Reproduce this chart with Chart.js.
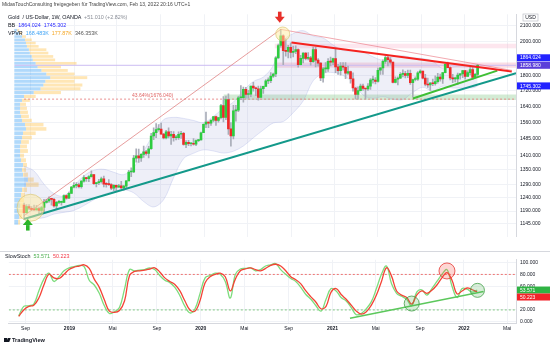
<!DOCTYPE html>
<html>
<head>
<meta charset="utf-8">
<script src="https://cdn.jsdelivr.net/npm/chart.js"></script>
<style>
  body { margin: 0; width: 550px; height: 350px; background: #fff; position: relative; overflow: hidden;
         font-family: "Liberation Sans", Arial, sans-serif; }
  canvas { position: absolute; left: 0; }
  #main { top: 0; }
  #stoch { top: 251px; }
  .t { position: absolute; white-space: nowrap; color: #131722; line-height: 1; }
  .sep { position: absolute; left: 0; top: 251px; width: 550px; height: 1px; background: #d6d8de; }
</style>
</head>
<body>
<canvas id="main" width="550" height="251"></canvas>
<canvas id="stoch" width="550" height="99"></canvas>
<div class="sep"></div>

<div class="t" style="left:2px;top:2px;font-size:5px;color:#444">MidasTouchConsulting freigegeben für TradingView.com, Feb 13, 2022 20:16 UTC+1</div>
<div class="t" style="left:8px;top:15px;font-size:5.4px">Gold &nbsp;/ US-Dollar, 1W, OANDA &nbsp;<span style="color:#8a8e97">+51.010 (+2.82%)</span></div>
<div class="t" style="left:8px;top:23px;font-size:5.4px">BB &nbsp;<span style="color:#2a2aff">1864.024 &nbsp;1745.302</span></div>
<div class="t" style="left:8px;top:31px;font-size:5.4px">VPVR &nbsp;<span style="color:#42a5f5">168.483K</span> &nbsp;<span style="color:#f5a623">177.87K</span> &nbsp;<span style="color:#555">346.353K</span></div>
<div class="t" style="left:5px;top:254px;font-size:5.4px">SlowStoch &nbsp;<span style="color:#4caf50">53.571</span> &nbsp;<span style="color:#f23645">50.223</span></div>
<div style="position:absolute;left:4px;top:338px;width:3px;height:4px;background:#131722"></div>
<div style="position:absolute;left:7px;top:338px;width:3px;height:4px;background:#131722;transform:skewX(-20deg)"></div>
<div class="t" style="left:12px;top:338px;font-size:5.6px;font-weight:bold">TradingView</div>

<script>
// weekly candles, week 0 = Aug 13 2018
const firstOpen = 1212;
const closes = [
  1184, 1206, 1200, 1195, 1194, 1199, 1192, 1203, 1222, 1227,
  1234, 1233, 1209, 1222, 1222, 1222, 1248, 1238, 1256, 1280,
  1287, 1289, 1282, 1304, 1318, 1314, 1322, 1330, 1294, 1298,
  1302, 1313, 1292, 1291, 1290, 1276, 1287, 1280, 1285, 1277,
  1284, 1305, 1341, 1341, 1399, 1409, 1400, 1415, 1426, 1419,
  1440, 1497, 1513, 1527, 1529, 1506, 1488, 1516, 1497, 1505,
  1489, 1490, 1505, 1509, 1459, 1468, 1462, 1464, 1460, 1476,
  1479, 1512, 1552, 1562, 1557, 1571, 1589, 1570, 1584, 1643,
  1585, 1674, 1530, 1498, 1617, 1620, 1683, 1683, 1727, 1700,
  1702, 1744, 1735, 1730, 1685, 1730, 1743, 1772, 1774, 1798,
  1810, 1902, 1975, 2035, 1944, 1940, 1964, 1934, 1940, 1950,
  1862, 1899, 1930, 1899, 1902, 1879, 1951, 1889, 1871, 1788,
  1839, 1839, 1881, 1877, 1898, 1850, 1829, 1855, 1848, 1814,
  1823, 1784, 1734, 1700, 1720, 1745, 1732, 1729, 1744, 1777,
  1777, 1769, 1831, 1844, 1881, 1904, 1891, 1877, 1764, 1781,
  1787, 1808, 1812, 1802, 1814, 1763, 1780, 1781, 1817, 1827,
  1787, 1754, 1750, 1761, 1757, 1768, 1793, 1783, 1818, 1864,
  1846, 1788, 1783, 1783, 1804, 1811, 1829, 1797, 1818, 1835,
  1791, 1808, 1858.98
];
const highs = [
  1219, 1214, 1214, 1206, 1212, 1211, 1204, 1207, 1233, 1233,
  1243, 1237, 1237, 1226, 1230, 1227, 1250, 1250, 1261, 1283,
  1298, 1298, 1296, 1306, 1326, 1319, 1326, 1346, 1330, 1298,
  1311, 1320, 1324, 1298, 1310, 1294, 1290, 1289, 1291, 1303,
  1287, 1306, 1348, 1358, 1411, 1439, 1438, 1419, 1452, 1433,
  1450, 1510, 1535, 1555, 1550, 1557, 1510, 1523, 1535, 1519,
  1517, 1500, 1516, 1519, 1514, 1476, 1477, 1466, 1485, 1480,
  1482, 1515, 1554, 1611, 1564, 1574, 1589, 1591, 1585, 1649,
  1689, 1692, 1703, 1560, 1644, 1645, 1690, 1747, 1739, 1738,
  1722, 1745, 1765, 1739, 1744, 1745, 1745, 1779, 1789, 1818,
  1815, 1909, 1983, 2075, 2040, 2016, 1976, 1992, 1972, 1973,
  1955, 1917, 1933, 1932, 1933, 1911, 1965, 1965, 1898, 1875,
  1848, 1875, 1897, 1906, 1900, 1959, 1865, 1875, 1875, 1875,
  1855, 1826, 1816, 1739, 1740, 1755, 1755, 1732, 1758, 1785,
  1798, 1790, 1843, 1846, 1890, 1913, 1916, 1903, 1878, 1795,
  1795, 1818, 1834, 1825, 1832, 1832, 1782, 1795, 1823, 1834,
  1827, 1808, 1788, 1764, 1782, 1800, 1814, 1810, 1818, 1868,
  1877, 1850, 1808, 1793, 1815, 1814, 1831, 1831, 1828, 1848,
  1853, 1814, 1865
];
const lows = [
  1160, 1182, 1195, 1191, 1192, 1193, 1180, 1182, 1183, 1219,
  1222, 1211, 1204, 1196, 1217, 1211, 1221, 1234, 1236, 1256,
  1277, 1277, 1277, 1276, 1300, 1303, 1302, 1320, 1291, 1281,
  1290, 1296, 1281, 1280, 1287, 1270, 1266, 1266, 1279, 1275,
  1268, 1277, 1305, 1322, 1338, 1382, 1381, 1385, 1402, 1412,
  1400, 1437, 1480, 1490, 1520, 1505, 1484, 1484, 1488, 1459,
  1474, 1479, 1482, 1486, 1456, 1445, 1454, 1452, 1456, 1454,
  1471, 1478, 1512, 1536, 1536, 1546, 1563, 1547, 1562, 1577,
  1563, 1574, 1504, 1451, 1484, 1567, 1613, 1674, 1660, 1681,
  1681, 1689, 1717, 1694, 1671, 1685, 1705, 1743, 1757, 1763,
  1791, 1795, 1898, 1965, 1863, 1911, 1902, 1902, 1907, 1927,
  1848, 1861, 1873, 1890, 1890, 1860, 1876, 1850, 1854, 1774,
  1765, 1819, 1824, 1855, 1863, 1817, 1808, 1803, 1831, 1785,
  1808, 1760, 1717, 1677, 1676, 1719, 1721, 1677, 1721, 1726,
  1760, 1756, 1766, 1808, 1808, 1870, 1856, 1866, 1761, 1761,
  1750, 1784, 1794, 1789, 1790, 1753, 1688, 1772, 1775, 1810,
  1783, 1745, 1737, 1721, 1746, 1749, 1760, 1771, 1758, 1816,
  1845, 1778, 1762, 1767, 1753, 1782, 1790, 1782, 1797, 1805,
  1780, 1788, 1800
];

// Bollinger band (20, 2) read every 4 weeks
const bbWeeks = [0, 4, 8, 12, 16, 20, 24, 28, 32, 36, 40, 44, 48, 52, 56, 60, 64, 68, 72, 76, 80, 84, 88, 92,
  96, 100, 104, 108, 112, 116, 120, 124, 128, 132, 136, 140, 144, 148, 152, 156, 160, 164, 168, 172, 176, 180, 182];
const bbUpper = [1365, 1345, 1292, 1255, 1246, 1285, 1325, 1348, 1352, 1340, 1330, 1360, 1430, 1506, 1574, 1585,
  1580, 1570, 1560, 1590, 1629, 1661, 1720, 1769, 1793, 1858, 2005, 2048, 2067, 2033, 2021, 1978, 1946, 1943,
  1937, 1908, 1889, 1908, 1914, 1903, 1898, 1882, 1840, 1850, 1855, 1855, 1864.024];
const bbLower = [1180, 1165, 1166, 1179, 1185, 1192, 1210, 1232, 1252, 1264, 1270, 1258, 1225, 1205, 1232, 1318,
  1397, 1420, 1435, 1430, 1421, 1429, 1452, 1489, 1525, 1558, 1565, 1608, 1667, 1773, 1813, 1818, 1802, 1763,
  1697, 1680, 1689, 1676, 1674, 1711, 1738, 1718, 1744, 1734, 1735, 1735, 1745.302];

// volume profile rows (price bin centre, up volume, down volume), bins 20 wide
const vpBin = 20;
const vpPrices = [1150, 1170, 1190, 1210, 1230, 1250, 1270, 1290, 1310, 1330, 1350, 1370, 1390, 1410, 1430, 1450,
  1470, 1490, 1510, 1530, 1550, 1570, 1590, 1610, 1630, 1650, 1670, 1690, 1710, 1730, 1750, 1770, 1790, 1810,
  1830, 1850, 1870, 1890, 1910, 1930, 1950, 1970, 1990, 2010, 2030, 2050, 2070];
const vpUp = [4, 5, 5, 6, 6, 7, 8, 12, 14, 9, 8, 9, 7, 6, 6, 6, 7, 8, 9, 12, 11, 8, 7, 6, 6, 6, 8, 10, 20, 27, 30,
  32, 37, 33, 28, 24, 22, 19, 18, 16, 15, 13, 12, 11, 8, 5, 3];
const vpDown = [2, 3, 4, 4, 4, 4, 5, 13, 6, 5, 4, 4, 5, 4, 8, 7, 8, 10, 13, 21, 19, 10, 8, 8, 7, 6, 8, 12, 28, 41,
  40, 30, 38, 29, 27, 24, 42, 23, 22, 19, 18, 12, 10, 7, 4, 3, 2];

// slow stochastic, one value every 2 weeks
const stochStep = 2;
const stochK = [10, 26, 27, 30, 52, 72, 82, 68, 76, 86, 91, 93, 95, 93, 70, 62, 48, 27, 14, 17, 24, 55, 88, 86,
  87, 88, 91, 88, 78, 70, 66, 58, 44, 26, 15, 22, 48, 74, 78, 82, 80, 68, 40, 80, 89, 90, 91, 86, 88, 94, 96, 98,
  88, 80, 73, 68, 58, 46, 38, 27, 18, 38, 56, 52, 41, 35, 24, 12, 14, 22, 34, 56, 80, 94, 64, 48, 43, 38, 27, 50,
  54, 45, 56, 68, 80, 88, 60, 41, 56, 55, 50, 53.571];
const stochD = [9, 20, 26, 28, 40, 62, 80, 74, 73, 80, 88, 92, 94, 96, 90, 72, 58, 37, 18, 16, 19, 35, 78, 85,
  86, 87, 89, 91, 84, 74, 68, 63, 52, 35, 20, 18, 36, 66, 76, 80, 82, 76, 52, 72, 86, 89, 91, 88, 86, 90, 95, 97,
  94, 86, 76, 71, 64, 52, 42, 33, 22, 26, 50, 56, 46, 38, 28, 18, 13, 17, 28, 45, 68, 91, 77, 52, 45, 41, 30, 45,
  52, 48, 53, 62, 74, 83, 70, 47, 52, 57, 54, 50.223];

// drawings (week, price)
const fibLevel = 1676.04;
const zoneStart = [100.5, 100.5, 80];
const zoneLow = [1958, 1845, 1672];
const zoneHigh = [1985, 1875, 1700];
const tealLine = [[0, 1161], [197.4, 1815]];
const riseLine = [[0, 1173], [103, 2075]];
const fallLine = [[103, 2075], [195.8, 1830]];
const resistLine = [[107.3, 1993], [195.7, 1824]];
const supportLine = [[156, 1679], [189.9, 1829]];
const lowCircle = [2.6, 1202];
const topCircle = [103.8, 2046];
const arrowDown = [102.6, 2118];
const arrowUp = [1.5, 1161];
// stochastic drawings (week, value)
const stochSupport = [[131.5, 6], [184.5, 51]];
const stochRedCircle = [170, 85.7];
const stochGreenCircles = [[156, 30.8], [182.1, 53]];

// axes
const yTicks = [1145, 1190, 1240, 1290, 1350, 1410, 1485, 1560, 1640, 1720, 1800, 2000, 2100];
const stochTicks = [0, 20, 60, 80, 100];
const xTickWeeks = [2.71, 20.14, 37.29, 54.86, 72.29, 89.57, 107.14, 124.57, 141.71, 159.29, 176.71, 193.86];
const xTickLabels = ['Sep', '2019', 'Mai', 'Sep', '2020', 'Mai', 'Sep', '2021', 'Mai', 'Sep', '2022', 'Mai'];

const xMin = -3.92, xMax = 197.4;
const gridColor = '#f0f2f6';
const upColor = '#2ecc40', downColor = '#ef2a2a';
const FONT = '"Liberation Sans", Arial, sans-serif';
Chart.defaults.font.family = FONT;

const opens = closes.map((c, i) => i === 0 ? firstOpen : closes[i - 1]);
const seg = (pts) => pts.map(p => ({x: p[0], y: p[1]}));
const flat = (x0, x1, v) => [{x: x0, y: v}, {x: x1, y: v}];

function lineDs(data, color, width, extra) {
    return Object.assign({type: 'line', data: data, borderColor: color, borderWidth: width,
        pointRadius: 0, fill: false}, extra || {});
}

const zoneColors = ['rgba(244,143,177,0.22)', 'rgba(240,120,150,0.25)', 'rgba(129,199,132,0.35)'];
const zoneSets = zoneStart.map((s, i) => lineDs(flat(s, xMax, zoneHigh[i]), 'rgba(0,0,0,0)', 0,
    {fill: {value: zoneLow[i]}, backgroundColor: zoneColors[i], order: 90}));

// volume profile rows: price edges on the y scale, volume on the hidden xv scale
const vpvr = {
    id: 'vpvr',
    beforeDatasetsDraw(chart) {
        const {ctx, scales: {y, xv}} = chart;
        ctx.save();
        vpPrices.forEach((p, i) => {
            const top = y.getPixelForValue(p + vpBin / 2) + 0.35;
            const bot = y.getPixelForValue(p - vpBin / 2) - 0.35;
            const x0 = xv.getPixelForValue(0);
            const x1 = xv.getPixelForValue(vpUp[i]);
            const x2 = xv.getPixelForValue(vpUp[i] + vpDown[i]);
            ctx.fillStyle = 'rgba(66,165,245,0.42)';
            ctx.fillRect(x0, top, x1 - x0, bot - top);
            ctx.fillStyle = 'rgba(255,200,90,0.45)';
            ctx.fillRect(x1, top, x2 - x1, bot - top);
        });
        ctx.restore();
    }
};

function drawArrow(ctx, px, py, dir, color) {
    // dir 1 = pointing down (tip at py), -1 = pointing up
    ctx.save();
    ctx.fillStyle = color;
    ctx.beginPath();
    ctx.moveTo(px, py);
    ctx.lineTo(px - 5, py - dir * 6);
    ctx.lineTo(px + 5, py - dir * 6);
    ctx.closePath();
    ctx.fill();
    ctx.fillRect(px - 1.8, dir > 0 ? py - 11 : py + 6, 3.6, 5.5);
    ctx.restore();
}

function valueBox(ctx, left, yPix, text, bg) {
    ctx.fillStyle = bg;
    ctx.fillRect(left + 1, yPix - 3.5, 33, 7);
    ctx.fillStyle = '#fff';
    ctx.font = '5px ' + FONT;
    ctx.textBaseline = 'middle';
    ctx.textAlign = 'left';
    ctx.fillText(text, left + 4, yPix + 0.3);
}

const mainMarks = {
    id: 'mainMarks',
    afterDraw(chart) {
        const {ctx, scales: {x, y}, chartArea} = chart;
        drawArrow(ctx, x.getPixelForValue(arrowDown[0]), y.getPixelForValue(arrowDown[1]), 1, '#e8302a');
        drawArrow(ctx, x.getPixelForValue(arrowUp[0]), y.getPixelForValue(arrowUp[1]), -1, '#2bb52b');

        ctx.save();
        ctx.font = '5px ' + FONT;
        ctx.fillStyle = '#e06666';
        ctx.textBaseline = 'bottom';
        ctx.fillText('43.64%(' + fibLevel.toFixed(3) + ')', x.getPixelForValue(43.3), y.getPixelForValue(fibLevel) - 1);

        const right = chartArea.right;
        // USD box
        ctx.fillStyle = '#fff';
        ctx.strokeStyle = '#b2b5be';
        ctx.lineWidth = 0.6;
        ctx.fillRect(right + 7, 14, 15, 7);
        ctx.strokeRect(right + 7, 14, 15, 7);
        ctx.fillStyle = '#131722';
        ctx.textAlign = 'center';
        ctx.textBaseline = 'middle';
        ctx.fillText('USD', right + 14.5, 17.8);

        const last = closes.length - 1;
        const cY = y.getPixelForValue(closes[last]);
        const uY = Math.min(y.getPixelForValue(bbUpper[bbUpper.length - 1]), cY - 7.5);
        valueBox(ctx, right, uY, bbUpper[bbUpper.length - 1].toFixed(3), '#2323ff');
        valueBox(ctx, right, cY, closes[last].toFixed(3), '#5b3fd9');
        valueBox(ctx, right, y.getPixelForValue(bbLower[bbLower.length - 1]), bbLower[bbLower.length - 1].toFixed(3), '#2323ff');
        ctx.restore();
    }
};

new Chart(document.getElementById('main'), {
    type: 'bar',
    data: {
        datasets: [
            ...zoneSets,
            lineDs(bbWeeks.map((w, i) => ({x: w, y: bbUpper[i]})), 'rgba(150,160,225,0.45)', 0.6,
                {tension: 0.35, order: 80}),
            lineDs(bbWeeks.map((w, i) => ({x: w, y: bbLower[i]})), 'rgba(150,160,225,0.45)', 0.6,
                {tension: 0.35, fill: '-1', backgroundColor: 'rgba(121,134,203,0.13)', order: 80}),
            lineDs(flat(xMin, xMax, closes[closes.length - 1]), '#cbbcf2', 1, {order: 70}),
            lineDs(flat(0, xMax, fibLevel), '#e57373', 0.8, {borderDash: [2, 2], order: 70}),
            {
                type: 'bar',
                data: closes.map((c, i) => ({x: i, y: [lows[i], highs[i]]})),
                backgroundColor: '#a9adb8', barThickness: 1, grouped: false, order: 50
            },
            {
                type: 'bar',
                data: closes.map((c, i) => ({x: i, y: [opens[i], c]})),
                backgroundColor: closes.map((c, i) => c >= opens[i] ? upColor : downColor),
                barThickness: 2, minBarLength: 1, grouped: false, order: 40
            },
            lineDs(seg(riseLine), 'rgba(220,110,110,0.85)', 0.8, {order: 20}),
            lineDs(seg(fallLine), 'rgba(235,120,130,0.8)', 0.8, {order: 20}),
            lineDs(seg(tealLine), '#13998a', 2, {order: 20}),
            lineDs(seg(resistLine), '#f5231f', 2, {order: 20}),
            lineDs(seg(supportLine), '#3fbf35', 2, {order: 20}),
            lineDs(seg([lowCircle, topCircle]), 'rgba(0,0,0,0)', 0, {
                showLine: false, pointRadius: [13.5, 7], pointBackgroundColor: 'rgba(255,236,160,0.5)',
                pointBorderColor: 'rgba(215,195,110,0.8)', pointBorderWidth: 0.8, order: 10
            })
        ]
    },
    options: {
        responsive: false,
        animation: false,
        events: [],
        layout: {padding: {top: 13, left: 0, right: 0, bottom: 0}},
        plugins: {legend: {display: false}, tooltip: {enabled: false}},
        scales: {
            x: {
                type: 'linear', min: xMin, max: xMax, offset: false,
                grid: {color: gridColor, drawTicks: false, offset: false},
                border: {display: false},
                ticks: {display: false},
                afterBuildTicks: (s) => { s.ticks = xTickWeeks.map(v => ({value: v})); },
                afterFit: (s) => { s.height = 0; }
            },
            xv: {type: 'linear', display: false, min: 0, max: 516, offset: false},
            y: {
                type: 'logarithmic', position: 'right', min: 1100, max: 2173,
                grid: {color: gridColor, drawTicks: false},
                border: {color: '#d6d8de'},
                ticks: {font: {size: 5}, color: '#131722', padding: 4, autoSkip: false,
                    callback: (v) => Number(v).toFixed(3)},
                afterBuildTicks: (s) => { s.ticks = yTicks.map(v => ({value: v})); },
                afterFit: (s) => { s.width = 34; }
            }
        }
    },
    plugins: [vpvr, mainMarks]
});

const stochMarks = {
    id: 'stochMarks',
    afterDraw(chart) {
        const {ctx, scales: {y}, chartArea} = chart;
        const kVal = stochK[stochK.length - 1], dVal = stochD[stochD.length - 1];
        const kY = y.getPixelForValue(kVal);
        const dY = Math.max(y.getPixelForValue(dVal), kY + 7);
        ctx.save();
        valueBox(ctx, chartArea.right, kY, kVal.toFixed(3), '#2fb344');
        valueBox(ctx, chartArea.right, dY, dVal.toFixed(3), '#f2232a');
        ctx.restore();
    }
};

new Chart(document.getElementById('stoch'), {
    type: 'line',
    data: {
        datasets: [
            lineDs(flat(xMin, xMax, 80), '#ef5350', 0.8, {borderDash: [2, 2], order: 60}),
            lineDs(flat(xMin, xMax, 20), '#66bb6a', 0.8, {borderDash: [2, 2], order: 60}),
            lineDs(stochK.map((v, i) => ({x: i * stochStep, y: v})), '#7ddc7d', 1.3, {tension: 0.4, order: 40}),
            lineDs(stochD.map((v, i) => ({x: i * stochStep, y: v})), '#f44336', 1.3, {tension: 0.4, order: 30}),
            lineDs(seg(stochSupport), '#5cc85c', 1.5, {order: 20}),
            lineDs(seg([stochRedCircle]), 'rgba(0,0,0,0)', 0, {
                showLine: false, pointRadius: 8, pointBackgroundColor: 'rgba(244,67,54,0.22)',
                pointBorderColor: '#e53935', pointBorderWidth: 0.8, order: 10
            }),
            lineDs(seg(stochGreenCircles), 'rgba(0,0,0,0)', 0, {
                showLine: false, pointRadius: [7.5, 7], pointBackgroundColor: 'rgba(76,175,80,0.22)',
                pointBorderColor: '#43a047', pointBorderWidth: 0.8, order: 10
            })
        ]
    },
    options: {
        responsive: false,
        animation: false,
        events: [],
        layout: {padding: {top: 1, left: 0, right: 0, bottom: 14}},
        plugins: {legend: {display: false}, tooltip: {enabled: false}},
        scales: {
            x: {
                type: 'linear', min: xMin, max: xMax,
                grid: {color: gridColor, drawTicks: false},
                border: {color: '#d6d8de'},
                ticks: {
                    autoSkip: false, maxRotation: 0, padding: 3, color: '#131722',
                    font: (c) => ({size: 5, weight: /^\d{4}$/.test(xTickLabels[c.index]) ? 'bold' : 'normal'}),
                    callback: (v, i) => xTickLabels[i]
                },
                afterBuildTicks: (s) => { s.ticks = xTickWeeks.map(v => ({value: v})); },
                afterFit: (s) => { s.height = 13; }
            },
            y: {
                position: 'right', min: -2, max: 104.5,
                grid: {color: gridColor, drawTicks: false},
                border: {color: '#d6d8de'},
                ticks: {font: {size: 5}, color: '#131722', padding: 4, autoSkip: false,
                    callback: (v) => Number(v).toFixed(3)},
                afterBuildTicks: (s) => { s.ticks = stochTicks.map(v => ({value: v})); },
                afterFit: (s) => { s.width = 34; }
            }
        }
    },
    plugins: [stochMarks]
});
</script>
</body>
</html>
